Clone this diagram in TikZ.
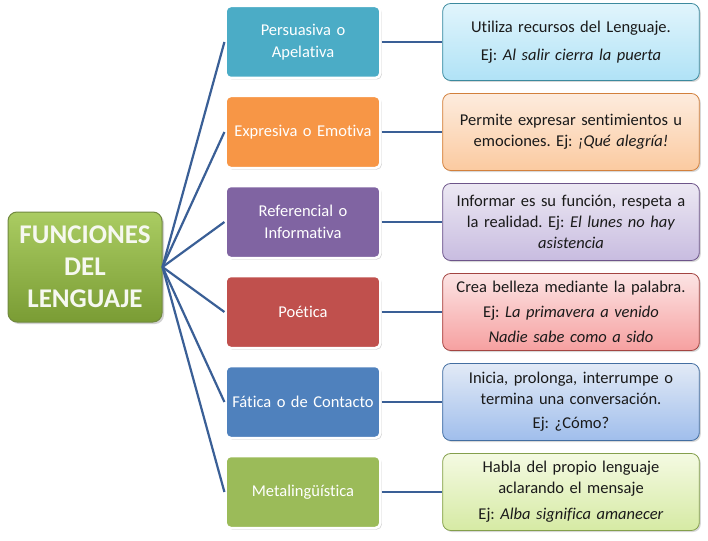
\documentclass[tikz,border=0pt]{standalone}
\usepackage{fontspec}
\setmainfont{Carlito}[Ligatures={NoCommon}]
\usetikzlibrary{shadows}
\frenchspacing
\definecolor{cteal}{HTML}{4BACC6}
\definecolor{corange}{HTML}{F79646}
\definecolor{cpurple}{HTML}{8064A2}
\definecolor{cred}{HTML}{C0504D}
\definecolor{cblue}{HTML}{4F81BD}
\definecolor{cgreen}{HTML}{9BBB59}
\definecolor{linec}{HTML}{3A5F96}
\definecolor{txt}{HTML}{1A1A1A}
\tikzset{
  x=1pt, y=-1pt,
  mid/.style={rounded corners=5pt, minimum width=150pt, minimum height=72pt,
    draw=white, line width=2.5pt, text=white, align=center, text width=148pt,
    font=\fontsize{16.5}{22}\selectfont,
    drop shadow={shadow xshift=1.5pt, shadow yshift=-1.5pt, opacity=0.35}},
  rbox/.style={rounded corners=8pt, minimum width=252pt, minimum height=77pt,
    line width=0.8pt, text=txt, align=center, text width=250pt,
    font=\fontsize{16.5}{21}\selectfont,
    drop shadow={shadow xshift=1.5pt, shadow yshift=-1.5pt, opacity=0.3}},
  conn/.style={draw=linec, line width=2.2pt}
}
\begin{document}
\begin{tikzpicture}
\useasboundingbox (0,0) rectangle (708,540);
\fill[white] (0,0) rectangle (708,540);
% central
\node[rounded corners=9pt, minimum width=154pt, minimum height=110pt,
  draw={rgb,255:red,113;green,137;blue,63}, line width=1pt,
  top color={rgb,255:red,170;green,204;blue,98},
  bottom color={rgb,255:red,122;green,156;blue,52},
  drop shadow={shadow xshift=2pt, shadow yshift=-2pt, opacity=0.35},
  text={rgb,255:red,246;green,248;blue,240}, align=center,
  font=\fontsize{27}{32}\selectfont\bfseries] (c) at (85,267)
  {FUNCIONES\\DEL\\LENGUAJE};
% middle
\node[mid, fill=cteal] (m1) at (303,42) {Persuasiva o\\Apelativa};
\node[mid, fill=corange] (m2) at (303,132) {Expresiva o Emotiva};
\node[mid, fill=cpurple] (m3) at (303,222) {Referencial o\\Informativa};
\node[mid, fill=cred] (m4) at (303,312) {Poética};
\node[mid, fill=cblue] (m5) at (303,402) {Fática o de Contacto};
\node[mid, fill=cgreen] (m6) at (303,492) {Metalingüística};
% right
\node[rbox, draw=cteal!80!black, top color={rgb,255:red,225;green,245;blue,252}, bottom color={rgb,255:red,176;green,226;blue,246}] (r1) at (571,42)
  {Utiliza recursos del Lenguaje.\\[7pt] Ej: \textit{Al salir cierra la puerta}};
\node[rbox, draw=corange!85!black, top color={rgb,255:red,253;green,236;blue,222}, bottom color={rgb,255:red,251;green,202;blue,160}] (r2) at (571,132)
  {Permite expresar sentimientos u\\ emociones. Ej: \textit{¡Qué alegría!}};
\node[rbox, draw=cpurple!85!black, top color={rgb,255:red,236;green,232;blue,243}, bottom color={rgb,255:red,200;green,188;blue,224}] (r3) at (571,222)
  {Informar es su función, respeta a\\ la realidad. Ej: \textit{El lunes no hay}\\ \textit{asistencia}};
\node[rbox, draw=cred!85!black, top color={rgb,255:red,252;green,228;blue,228}, bottom color={rgb,255:red,246;green,160;blue,160}] (r4) at (571,312)
  {Crea belleza mediante la palabra.\\[4pt] Ej: \textit{La primavera a venido}\\[4pt] \textit{Nadie sabe como a sido}};
\node[rbox, draw=cblue!85!black, top color={rgb,255:red,226;green,234;blue,246}, bottom color={rgb,255:red,160;green,190;blue,236}] (r5) at (571,402)
  {Inicia, prolonga, interrumpe o\\ termina una conversación.\\[3pt] Ej: ¿Cómo?};
\node[rbox, draw=cgreen!85!black, top color={rgb,255:red,244;green,250;blue,226}, bottom color={rgb,255:red,214;green,234;blue,164}] (r6) at (571,492)
  {Habla del propio lenguaje\\ aclarando el mensaje\\[5pt] Ej: \textit{Alba significa amanecer}};
% connectors
\foreach \i in {1,...,6}{
  \draw[conn] (c.east) -- (m\i.west);
  \draw[conn] (m\i.east) -- (r\i.west);
}
\end{tikzpicture}
\end{document}
